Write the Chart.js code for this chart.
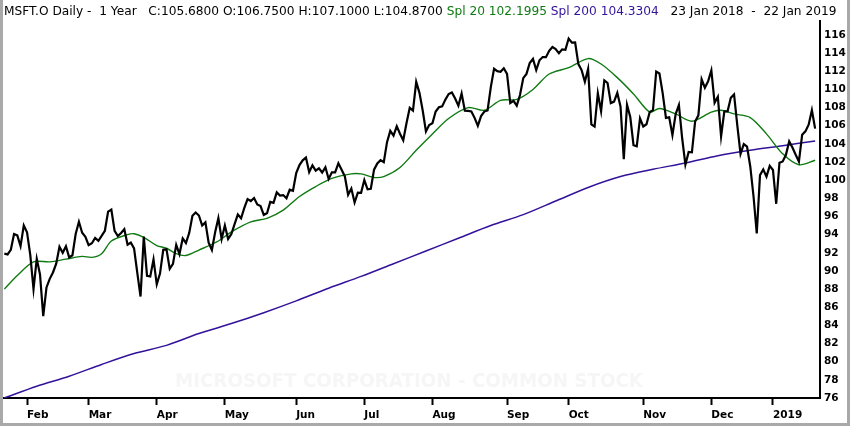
<!DOCTYPE html>
<html><head><meta charset="utf-8">
<script src="https://cdn.jsdelivr.net/npm/chart.js@4.4.1/dist/chart.umd.min.js"></script>
<style>html,body{margin:0;padding:0;background:#fff;overflow:hidden}#wrap{position:relative;width:850px;height:426px}canvas{display:block}</style>
</head><body><div id="wrap"><canvas id="c" width="850" height="426"></canvas></div>
<script>
// Daily closes, one per trading day, 23 Jan 2018 .. 22 Jan 2019 (index = trading day)
const closes = [
  91.90, 91.82, 92.33, 94.06, 93.92, 92.74, 95.01,
  94.26, 91.78, 88.00, 91.33, 89.61, 85.01, 88.18, 89.13, 89.83, 90.81, 92.66, 92.00, 92.72, 91.49, 91.73, 94.06, 95.42, 94.20, 93.77,
  92.85, 93.05, 93.64, 93.32, 93.86, 94.43, 96.54, 96.77, 94.41, 93.85, 94.18, 94.60, 92.89, 93.13, 92.48, 89.79, 87.18, 93.78, 89.47, 89.39, 91.27,
  88.52, 89.71, 92.33, 92.38, 90.23, 90.77, 92.88, 91.86, 93.58, 93.08, 94.17, 96.07, 96.44, 96.11, 95.00, 95.35, 93.12, 92.31, 94.26, 95.82, 93.52,
  95.00, 93.51, 94.07, 95.16, 96.22, 95.81, 96.94, 97.91, 97.70, 98.03, 97.32, 97.15, 96.18, 96.36, 97.60, 97.50, 98.66, 98.31, 98.36, 98.01, 98.95, 98.84,
  100.79, 101.67, 102.19, 102.49, 100.88, 101.63, 101.05, 101.31, 100.85, 101.42, 100.13, 100.86, 100.86, 101.87, 101.14, 100.41, 98.39, 99.08, 97.54, 98.63, 98.61,
  100.01, 98.99, 99.05, 101.16, 101.85, 102.21, 101.98, 104.19, 105.43, 104.91, 105.95, 105.12, 104.40, 106.27, 107.97, 107.66, 110.83, 109.62, 107.68, 105.37, 106.08,
  106.28, 107.57, 108.04, 108.13, 108.88, 109.49, 109.67, 109.00, 108.21, 109.56, 107.66, 107.64, 107.58, 106.87, 105.98, 107.06, 107.56, 107.68, 110.26, 112.28, 112.02, 111.95, 112.33,
  111.71, 108.49, 108.74, 108.21, 109.38, 111.24, 111.71, 112.91, 113.37, 112.14, 113.21, 113.57, 113.55, 114.26, 114.67, 114.45, 113.98, 114.41, 114.37,
  115.61, 115.15, 115.17, 112.79, 112.13, 110.85, 112.26, 106.16, 105.91, 109.57, 107.60, 111.00, 110.71, 108.50, 108.66, 109.63, 108.10, 102.32, 108.30, 106.96, 103.85, 103.73, 106.81,
  105.92, 106.16, 107.51, 107.72, 111.96, 111.75, 109.57, 106.87, 106.94, 104.97, 107.28, 108.29, 104.62, 101.71, 103.11, 103.07, 106.47, 107.14, 111.12, 110.19, 110.89,
  112.09, 108.52, 109.19, 104.82, 107.59, 107.59, 109.08, 109.45, 106.03, 102.89, 103.97, 103.69, 101.51, 98.23, 94.13, 100.56, 101.18, 100.39, 101.57,
  101.12, 97.40, 101.93, 102.06, 102.80, 104.27, 103.60, 102.80, 102.05, 105.01, 105.38, 106.12, 107.71, 105.68
];

const sma20Idx = [0, 4, 9, 14, 19, 24, 27, 30, 33, 38, 40, 43, 47, 50, 53, 56, 60, 66, 70, 76, 81, 86, 91, 96, 101, 107, 110, 114, 117, 122, 127, 132, 137, 143, 148, 153, 158, 163, 168, 174, 180, 184, 189, 194, 199, 202, 207, 212, 218, 221, 225, 230, 235, 240, 245, 250];
const sma20Val = [88.0, 89.5, 91.0, 91.0, 91.3, 91.6, 91.5, 91.9, 93.3, 94.0, 94.1, 93.7, 92.8, 92.5, 91.9, 91.7, 92.3, 93.3, 94.3, 95.4, 95.8, 96.7, 98.2, 99.3, 100.2, 100.7, 100.7, 100.3, 100.4, 101.4, 103.3, 105.1, 106.8, 108.0, 107.7, 108.8, 108.9, 110.0, 111.7, 112.4, 113.4, 112.8, 111.3, 109.5, 107.5, 107.9, 107.3, 106.5, 107.5, 107.7, 107.3, 106.9, 105.1, 102.9, 101.7, 102.2];

// Simple moving average 200
const sma200Idx = [0, 10, 20, 30, 40, 50, 60, 70, 80, 90, 100, 110, 120, 130, 140, 150, 160, 170, 180, 190, 200, 210, 220, 230, 240, 250];
const sma200Val = [76.0, 77.3, 78.4, 79.7, 80.9, 81.8, 83.1, 84.2, 85.4, 86.7, 88.1, 89.4, 90.8, 92.2, 93.6, 95.0, 96.2, 97.7, 99.2, 100.4, 101.2, 101.9, 102.7, 103.3, 103.8, 104.33];

// Month ticks (trading-day index of the first session of each month)
const monthTickIdx = [7, 26, 47, 68, 90, 111, 132, 155, 174, 197, 218, 237];
const monthTickLabels = ['Feb', 'Mar', 'Apr', 'May', 'Jun', 'Jul', 'Aug', 'Sep', 'Oct', 'Nov', 'Dec', '2019'];

const GREEN = '#0f7a12';
const PURPLE = '#33129a';
const FAM = '"DejaVu Sans", sans-serif';

const headerParts = [
  ['MSFT.O Daily -  1 Year   C:105.6800 O:106.7500 H:107.1000 L:104.8700 ', '#000'],
  ['Spl 20 102.1995', GREEN],
  [' ', '#000'],
  ['Spl 200 104.3304', PURPLE],
  ['   23 Jan 2018  -  22 Jan 2019', '#000']
];

const framePlugin = {
  id: 'frame',
  beforeDraw(chart) {
    const ctx = chart.ctx;
    ctx.save();
    ctx.fillStyle = '#fff';
    ctx.fillRect(0, 0, chart.width, chart.height);
    ctx.fillStyle = '#a9a9a9';
    ctx.fillRect(0, 0, 3, chart.height);
    ctx.fillRect(chart.width - 3, 0, 3, chart.height);
    ctx.fillRect(0, chart.height - 3, chart.width, 3);
    // header
    ctx.font = '12.2px ' + FAM;
    ctx.textBaseline = 'alphabetic';
    let x = 4;
    for (const [t, c] of headerParts) {
      ctx.fillStyle = c;
      ctx.fillText(t, x, 15);
      x += ctx.measureText(t).width;
    }
    ctx.restore();
  },
  beforeDatasetsDraw(chart) {
    const ctx = chart.ctx;
    ctx.save();
    ctx.font = 'bold 19px ' + FAM;
    const t = 'MICROSOFT CORPORATION - COMMON STOCK';
    const w = ctx.measureText(t).width;
    const target = 468;
    ctx.translate(175, 387);
    ctx.scale(target / w, 1);
    ctx.fillStyle = '#f6f6f6';
    ctx.textBaseline = 'alphabetic';
    ctx.fillText(t, 0, 0);
    ctx.restore();
  }
};

const tickFont = { family: FAM, size: 10.5, weight: 'bold' };

new Chart(document.getElementById('c'), {
  type: 'line',
  data: {
    datasets: [
      {
        label: 'Close',
        data: closes.map((v, i) => ({ x: i, y: v })),
        borderColor: '#000', borderWidth: 2.2, pointRadius: 0, tension: 0
      },
      {
        label: 'Spl 20',
        data: sma20Idx.map((i, k) => ({ x: i, y: sma20Val[k] })),
        borderColor: GREEN, borderWidth: 1.4, pointRadius: 0, tension: 0.3
      },
      {
        label: 'Spl 200',
        data: sma200Idx.map((i, k) => ({ x: i, y: sma200Val[k] })),
        borderColor: PURPLE, borderWidth: 1.5, pointRadius: 0, tension: 0.3
      }
    ]
  },
  options: {
    responsive: false,
    animation: false,
    devicePixelRatio: 1,
    layout: { padding: { top: 21, left: 4, right: 3, bottom: 3 } },
    plugins: { legend: { display: false }, tooltip: { enabled: false } },
    scales: {
      x: {
        type: 'linear', min: -0.1, max: 251.5, position: 'bottom',
        afterBuildTicks: s => { s.ticks = monthTickIdx.map(v => ({ value: v })); },
        afterFit: s => { s.height = 25; },
        ticks: {
          autoSkip: false, maxRotation: 0, minRotation: 0, align: 'start', padding: 4,
          color: '#000', font: tickFont,
          callback: v => { const k = monthTickIdx.indexOf(v); return k >= 0 ? monthTickLabels[k] : ''; }
        },
        grid: { display: true, drawOnChartArea: false, drawTicks: true, tickLength: 7, tickWidth: 2, tickColor: '#000' },
        border: { display: true, width: 2, color: '#000' }
      },
      y: {
        type: 'linear', position: 'right', min: 76, max: 117.54,
        afterFit: s => { s.width = 27; },
        ticks: { stepSize: 2, includeBounds: false, padding: 4, color: '#000', font: tickFont },
        grid: { display: true, drawOnChartArea: false, drawTicks: false },
        border: { display: true, width: 2, color: '#000' }
      }
    }
  },
  plugins: [framePlugin]
});
</script>
</body></html>
